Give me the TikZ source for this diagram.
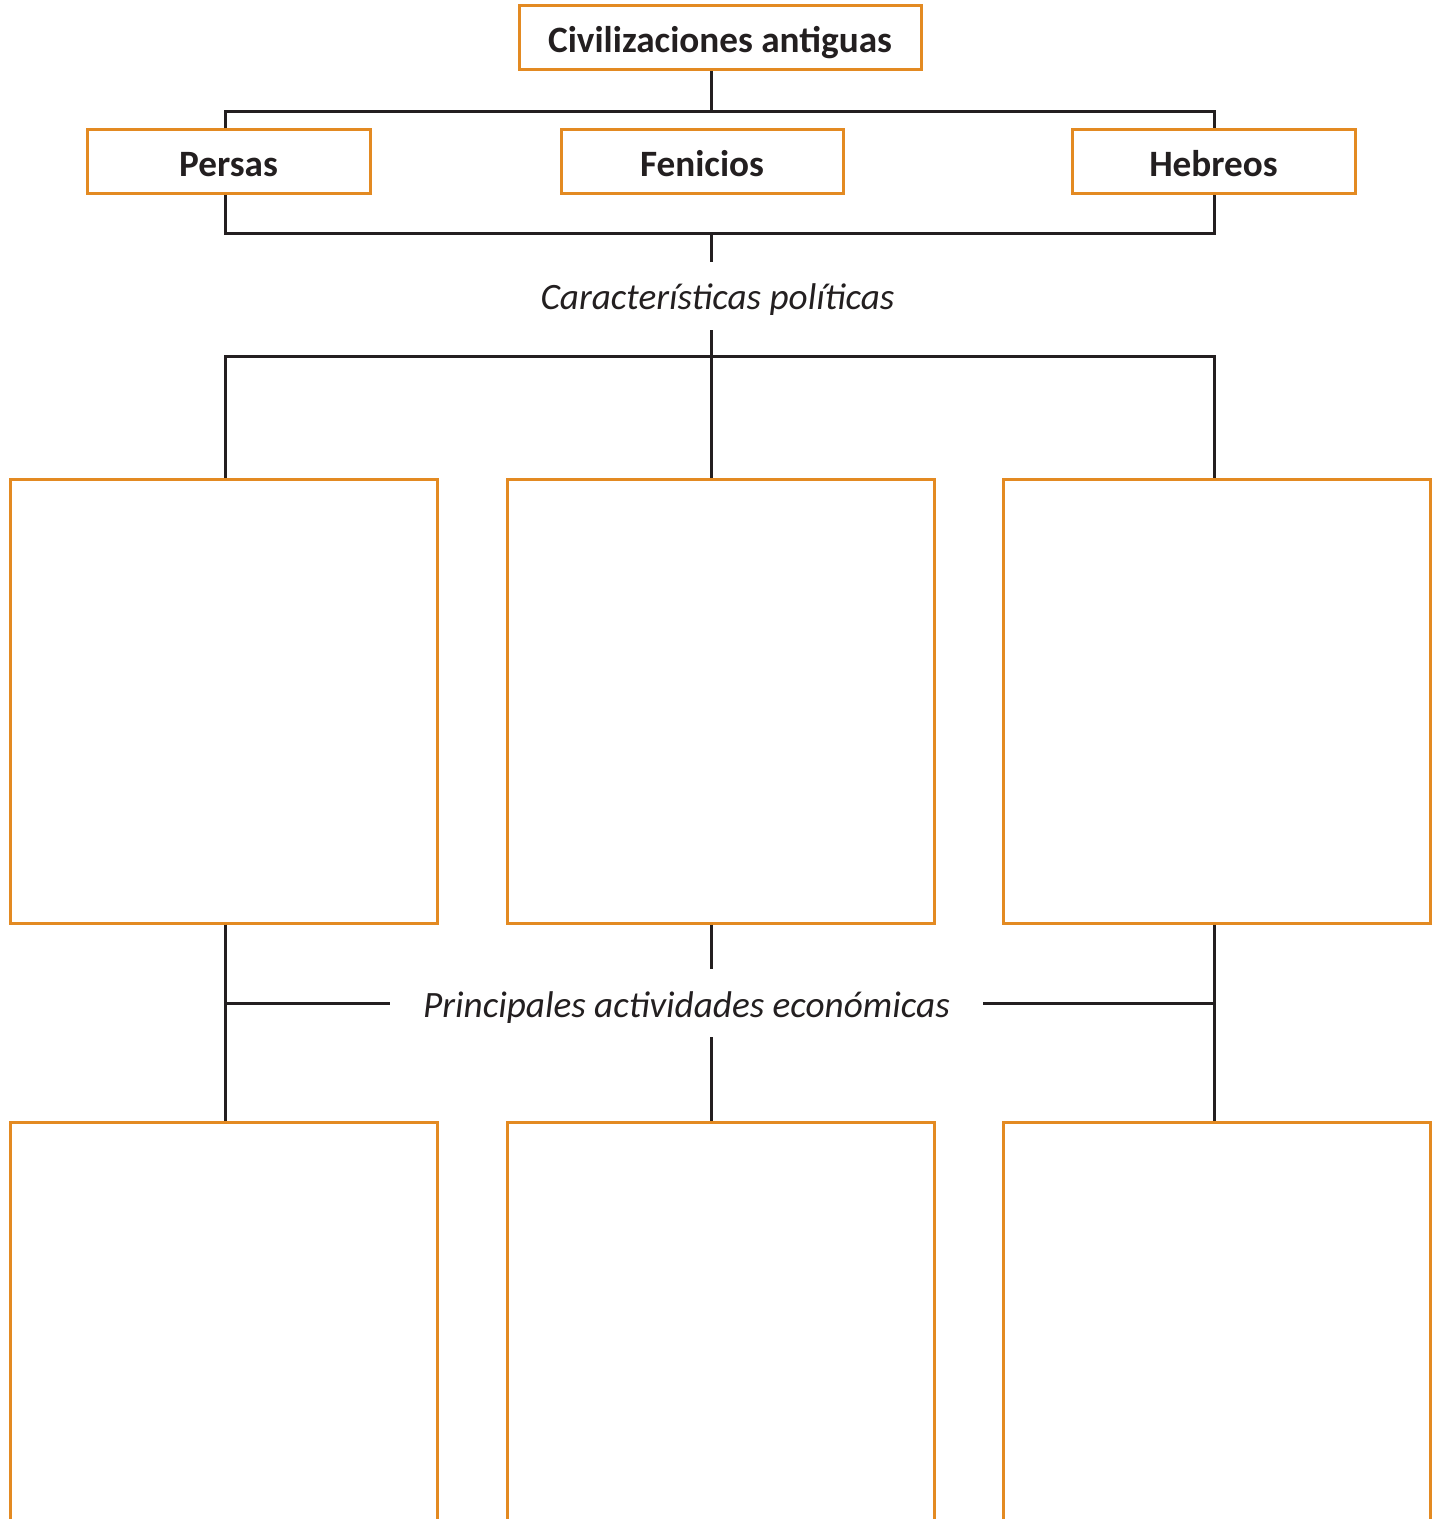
\documentclass[tikz,border=0pt]{standalone}
\usepackage{fontspec}
\setmainfont{Carlito}
\definecolor{boxorange}{HTML}{E38A22}
\definecolor{linedark}{HTML}{231F20}
\begin{document}
\begin{tikzpicture}[x=0.5pt,y=-0.5pt,
  box/.style={draw=boxorange,line width=1.5pt,fill=white,inner sep=0pt},
  titlebox/.style={box,minimum height=32pt,text height=15pt,text depth=0pt,font=\fontsize{18.6}{22}\selectfont\bfseries,text=linedark},
  bigbox/.style={box,minimum width=213.5pt},
  gaplabel/.style={inner sep=0pt,minimum height=34pt,text height=14pt,text depth=0pt,font=\fontsize{18.6}{22}\selectfont\itshape,text=linedark},
  conn/.style={draw=linedark,line width=1.5pt}]
\useasboundingbox (0,0) rectangle (1439,1519);
\clip (0,0) rectangle (1439,1519);
% nodes
\node[titlebox,minimum width=201pt] (top) at (720,38) {Civilizaciones antiguas};
\node[titlebox,minimum width=141.5pt] (persas) at (228.5,162) {Persas};
\node[titlebox,minimum width=141pt] (fenicios) at (702,162) {Fenicios};
\node[titlebox,minimum width=141.5pt] (hebreos) at (1213.5,162) {Hebreos};
\node[gaplabel] (cp) at (717.5,296) {Características políticas};
\node[bigbox,minimum height=222pt] (m1) at (223.5,701) {};
\node[bigbox,minimum height=222pt] (m2) at (720.5,701) {};
\node[bigbox,minimum height=222pt] (m3) at (1217,701) {};
\node[gaplabel,minimum width=296.5pt] (pa) at (686.5,1003) {Principales actividades económicas};
\node[bigbox,minimum height=259pt] (b1) at (223.5,1381) {};
\node[bigbox,minimum height=259pt] (b2) at (720.5,1381) {};
\node[bigbox,minimum height=259pt] (b3) at (1217,1381) {};
% reference coordinates
\coordinate (L) at (225,0);
\coordinate (J) at (711,0);
\coordinate (R) at (1214,0);
\coordinate (j1) at (711,112);
\coordinate (bl1) at (225,112);
\coordinate (br1) at (1214,112);
\coordinate (bl2) at (225,234);
\coordinate (br2) at (1214,234);
\coordinate (j2) at (711,234);
\coordinate (bl3) at (225,357);
\coordinate (br3) at (1214,357);
% connectors
\draw[conn] (top.south -| j1) -- (j1);
\draw[conn] (persas.north -| bl1) -- (bl1) -- (br1) -- (hebreos.north -| br1);
\draw[conn] (persas.south -| bl2) -- (bl2) -- (br2) -- (hebreos.south -| br2);
\draw[conn] (j2) -- (cp.north -| J);
\draw[conn] (cp.south -| J) -- (m2.north -| J);
\draw[conn] (m1.north -| L) -- (bl3) -- (br3) -- (m3.north -| R);
\draw[conn] (m1.south -| L) -- (b1.north -| L);
\draw[conn] (m3.south -| R) -- (b3.north -| R);
\draw[conn] (pa.west) -- (pa.west -| L);
\draw[conn] (pa.east) -- (pa.east -| R);
\draw[conn] (m2.south -| J) -- (pa.north -| J);
\draw[conn] (pa.south -| J) -- (b2.north -| J);
\end{tikzpicture}
\end{document}
